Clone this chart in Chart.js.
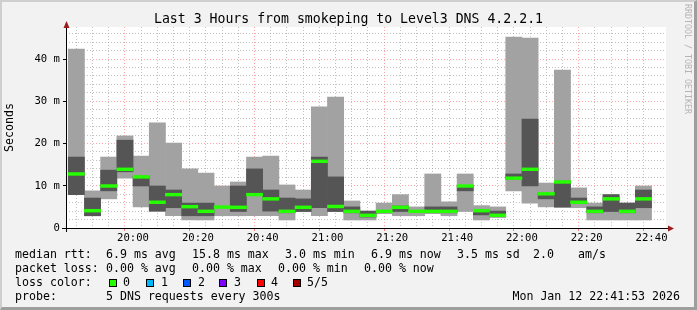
<!DOCTYPE html>
<html><head><meta charset="utf-8">
<script src="https://cdn.jsdelivr.net/npm/chart.js@4.4.1/dist/chart.umd.min.js"></script>
<style>
html,body{margin:0;padding:0;}
body{width:697px;height:310px;overflow:hidden;position:relative;background:#f2f2f2;font-family:"DejaVu Sans Mono",monospace;color:#000;}
canvas{position:absolute;left:0;top:0;}
#frame{position:absolute;left:0;top:0;width:697px;height:310px;box-sizing:border-box;border-top:2px solid #cfcfcf;border-left:2px solid #cfcfcf;border-right:3px solid #9e9e9e;border-bottom:3px solid #9e9e9e;pointer-events:none;}
.t{position:absolute;white-space:pre;font-size:11.6px;line-height:13.5px;}
#title{position:absolute;left:0;width:697px;top:11.4px;text-align:center;font-size:13.2px;line-height:15px;white-space:pre;}
#credit{position:absolute;left:683px;top:4px;writing-mode:vertical-rl;font-size:8.3px;line-height:9px;color:#b4b4b4;white-space:pre;}
.sq{position:absolute;width:6px;height:6px;border:1px solid #000;top:279px;}
</style>
</head><body>
<canvas id="c" width="697" height="310"></canvas>
<div id="title">Last 3 Hours from smokeping to Level3 DNS 4.2.2.1</div>
<div id="credit">RRDTOOL / TOBI OETIKER</div>

<div class="t" style="left:15px;top:248.2px">median rtt:</div>
<div class="t" style="left:106px;top:248.2px">6.9 ms avg</div>
<div class="t" style="left:192px;top:248.2px">15.8 ms max</div>
<div class="t" style="left:285px;top:248.2px">3.0 ms min</div>
<div class="t" style="left:371px;top:248.2px">6.9 ms now</div>
<div class="t" style="left:457px;top:248.2px">3.5 ms sd</div>
<div class="t" style="left:533px;top:248.2px">2.0</div>
<div class="t" style="left:578px;top:248.2px">am/s</div>

<div class="t" style="left:15px;top:262px">packet loss:</div>
<div class="t" style="left:106px;top:262px">0.00 % avg</div>
<div class="t" style="left:192px;top:262px">0.00 % max</div>
<div class="t" style="left:278px;top:262px">0.00 % min</div>
<div class="t" style="left:364px;top:262px">0.00 % now</div>

<div class="t" style="left:15px;top:275.8px">loss color:</div>
<div class="sq" style="left:109px;background:#26ff00"></div><div class="t" style="left:123px;top:275.8px">0</div>
<div class="sq" style="left:146px;background:#00b8ff"></div><div class="t" style="left:161px;top:275.8px">1</div>
<div class="sq" style="left:183px;background:#0059ff"></div><div class="t" style="left:198px;top:275.8px">2</div>
<div class="sq" style="left:219px;background:#7e00ff"></div><div class="t" style="left:234px;top:275.8px">3</div>
<div class="sq" style="left:257px;background:#ff0000"></div><div class="t" style="left:271px;top:275.8px">4</div>
<div class="sq" style="left:293px;background:#a00000"></div><div class="t" style="left:307px;top:275.8px">5/5</div>

<div class="t" style="left:15px;top:289.6px">probe:</div>
<div class="t" style="left:106px;top:289.6px">5 DNS requests every 300s</div>
<div class="t" style="right:17px;top:289.6px">Mon Jan 12 22:41:53 2026</div>
<div id="frame"></div>

<script>
// ---- data (milliseconds), one bar per 5-minute step ----
const TIMES = ['19:40','19:45','19:50','19:55','20:00','20:05','20:10','20:15','20:20','20:25',
               '20:30','20:35','20:40','20:45','20:50','20:55','21:00','21:05','21:10','21:15',
               '21:20','21:25','21:30','21:35','21:40','21:45','21:50','21:55','22:00','22:05',
               '22:10','22:15','22:20','22:25','22:30','22:35'];
const PING_MIN  = [7.9,2.9,6.9,11.8,5.0,3.9,2.9,1.9,1.9,2.9, 2.9,2.9,2.9,1.9,3.9,2.9,3.9,1.9,1.9,3.4, 2.9,2.9,3.4,2.9,3.9,1.9,2.6,8.8,5.9,5.0, 4.8,4.8,1.9,1.9,1.9,1.9];
const PING_LOW  = [7.9,2.9,8.8,13.3,9.95,4.0,4.8,2.9,2.9,4.9, 3.9,7.7,4.0,3.6,3.9,4.8,3.9,3.6,2.6,3.9, 3.9,3.9,3.7,3.6,8.8,3.1,2.6,11.5,9.95,6.9, 5.0,5.8,3.6,3.9,3.6,4.8];
const MEDIAN    = [12.8,4.1,9.95,13.9,12.1,6.1,7.9,5.05,3.95,4.95, 4.9,7.9,6.9,3.95,4.9,15.8,5.1,3.95,3.0,3.95, 4.9,3.95,3.95,3.95,9.95,4.1,3.0,11.8,13.9,8.1, 10.9,6.1,3.95,6.9,3.95,6.9];
const PING_HIGH = [16.8,7.1,13.7,20.8,12.3,9.95,9.0,5.9,5.9,5.0, 9.95,14.0,9.0,7.1,6.9,16.8,12.1,5.0,4.0,4.0, 5.2,4.0,5.0,5.0,10.1,4.3,4.0,12.8,25.8,8.3, 11.1,7.1,5.0,7.9,5.9,9.0];
const PING_MAX  = [42.4,8.8,16.8,21.8,17.05,24.9,20.1,14.0,13.0,9.95, 10.9,16.8,17.05,10.2,9.0,28.7,31.0,6.4,4.0,5.9, 7.9,5.0,12.8,6.2,12.8,5.3,5.0,45.2,45.0,10.65, 37.4,9.5,5.9,7.9,5.9,9.95];
const Y_LABEL_VALUES = [0, 10, 20, 30, 40];
const X_LABEL_TIMES = ['20:00','20:20','20:40','21:00','21:20','21:40','22:00','22:20','22:40'];
const WINDOW_START = '19:41:53', WINDOW_END = '22:41:53';
const STEP_MIN = 5;
const Y_MAX = 47.6;

// ---- helpers ----
const BASE = 20*60;
const toMin = t => { const p = t.split(':').map(Number); return p[0]*60 + p[1] + (p[2]||0)/60 - BASE; };
const fmt = v => { const tot = Math.round(v + BASE); const h = Math.floor(tot/60), m = tot%60; return String(h).padStart(2,'0')+':'+String(m).padStart(2,'0'); };
const xLabelSet = new Set(X_LABEL_TIMES.map(t => Math.round(toMin(t))));
const centers = TIMES.map(t => toMin(t) + STEP_MIN/2);
const MED_HALF = 0.33;

const GREY_LIGHT = '#a2a2a2', GREY_DARK = '#555555', GREEN = '#26ff00';
const TICK_FONT = {family:'"DejaVu Sans Mono", monospace', size:10.6};
const MAJOR = 'rgba(255,0,0,0.35)', MINOR = 'rgba(150,150,150,0.6)', NONE = 'rgba(0,0,0,0)';
const tv = c => (c && c.tick) ? c.tick.value : null;

const ds = (label, lo, hi, color, order) => ({
  label, order, grouped:false, clip:0, borderWidth:0, backgroundColor:color,
  barPercentage:1, categoryPercentage:1,
  data: centers.map((x,i) => ({x, y:[lo(i), hi(i)]}))
});

const deco = {
  id:'deco',
  beforeDraw(chart){
    const {ctx, chartArea:a} = chart;
    ctx.save();
    ctx.fillStyle = '#f2f2f2'; ctx.fillRect(0,0,chart.width,chart.height);
    ctx.fillStyle = '#ffffff'; ctx.fillRect(a.left, a.top, a.right-a.left, a.bottom-a.top);
    ctx.restore();
  },
  afterDraw(chart){
    const {ctx, chartArea:a} = chart;
    ctx.save();
    ctx.strokeStyle = '#000'; ctx.lineWidth = 1;
    ctx.beginPath();
    ctx.moveTo(a.left-4, a.bottom+0.5); ctx.lineTo(a.right+2, a.bottom+0.5);
    ctx.moveTo(a.left+0.5, a.bottom+4); ctx.lineTo(a.left+0.5, a.top);
    ctx.stroke();
    ctx.fillStyle = '#9b1c1c';
    ctx.beginPath();
    ctx.moveTo(a.right+2, a.bottom-2.5); ctx.lineTo(a.right+8, a.bottom+0.5); ctx.lineTo(a.right+2, a.bottom+3.5); ctx.closePath(); ctx.fill();
    ctx.beginPath();
    ctx.moveTo(a.left-2.5, a.top+1); ctx.lineTo(a.left+0.5, a.top-6); ctx.lineTo(a.left+3.5, a.top+1); ctx.closePath(); ctx.fill();
    ctx.restore();
  }
};

new Chart(document.getElementById('c'), {
  type:'bar',
  data:{ datasets:[
    ds('median', i => MEDIAN[i]-MED_HALF, i => MEDIAN[i]+MED_HALF, GREEN, 1),
    ds('inner', i => PING_LOW[i], i => PING_HIGH[i], GREY_DARK, 2),
    ds('outer', i => PING_MIN[i], i => PING_MAX[i], GREY_LIGHT, 3)
  ]},
  plugins:[deco],
  options:{
    responsive:false, animation:false, devicePixelRatio:1,
    layout:{padding:{left:0, top:27, right:31, bottom:0}},
    plugins:{legend:{display:false}, tooltip:{enabled:false}, title:{display:false}},
    scales:{
      x:{
        type:'linear', min:toMin(WINDOW_START), max:toMin(WINDOW_END),
        afterFit(s){ s.height = 82; },
        afterBuildTicks(s){
          const t=[]; for(let v=Math.ceil(s.min/STEP_MIN)*STEP_MIN; v<=s.max; v+=STEP_MIN) t.push({value:v});
          s.ticks = t;
        },
        ticks:{autoSkip:false, maxRotation:0, padding:1, color:'#000', font:TICK_FONT,
          callback(v){ return xLabelSet.has(Math.round(v)) ? fmt(v) : ''; }},
        grid:{
          color: c => { const v = tv(c); return v===null ? NONE : (xLabelSet.has(Math.round(v)) ? MAJOR : MINOR); },
          tickColor: c => { const v = tv(c); return (v!==null && xLabelSet.has(Math.round(v))) ? 'rgba(255,0,0,0.5)' : NONE; },
          tickLength:3, lineWidth:1
        },
        border:{display:false, dash:[1,2]}
      },
      y:{
        min:0, max:Y_MAX,
        afterFit(s){ s.width = 66; },
        afterBuildTicks(s){
          const t=[]; for(let v=0; v<=s.max; v+=2) t.push({value:v});
          s.ticks = t;
        },
        title:{display:true, text:'Seconds', color:'#000', padding:{top:3.5,bottom:0},
          font:{family:'"DejaVu Sans Mono", monospace', size:11.6}},
        ticks:{autoSkip:false, padding:3, color:'#000', font:TICK_FONT,
          callback(v){ return Y_LABEL_VALUES.includes(v) ? (v===0 ? '0' : v+' m') : ''; }},
        grid:{
          color: c => { const v = tv(c); return (v===null || v===0) ? NONE : (Y_LABEL_VALUES.includes(v) ? MAJOR : MINOR); },
          tickColor: c => { const v = tv(c); return (v!==null && Y_LABEL_VALUES.includes(v)) ? '#000' : NONE; },
          tickLength:3, lineWidth:1
        },
        border:{display:false, dash:[1,2]}
      }
    }
  }
});
</script>
</body></html>
